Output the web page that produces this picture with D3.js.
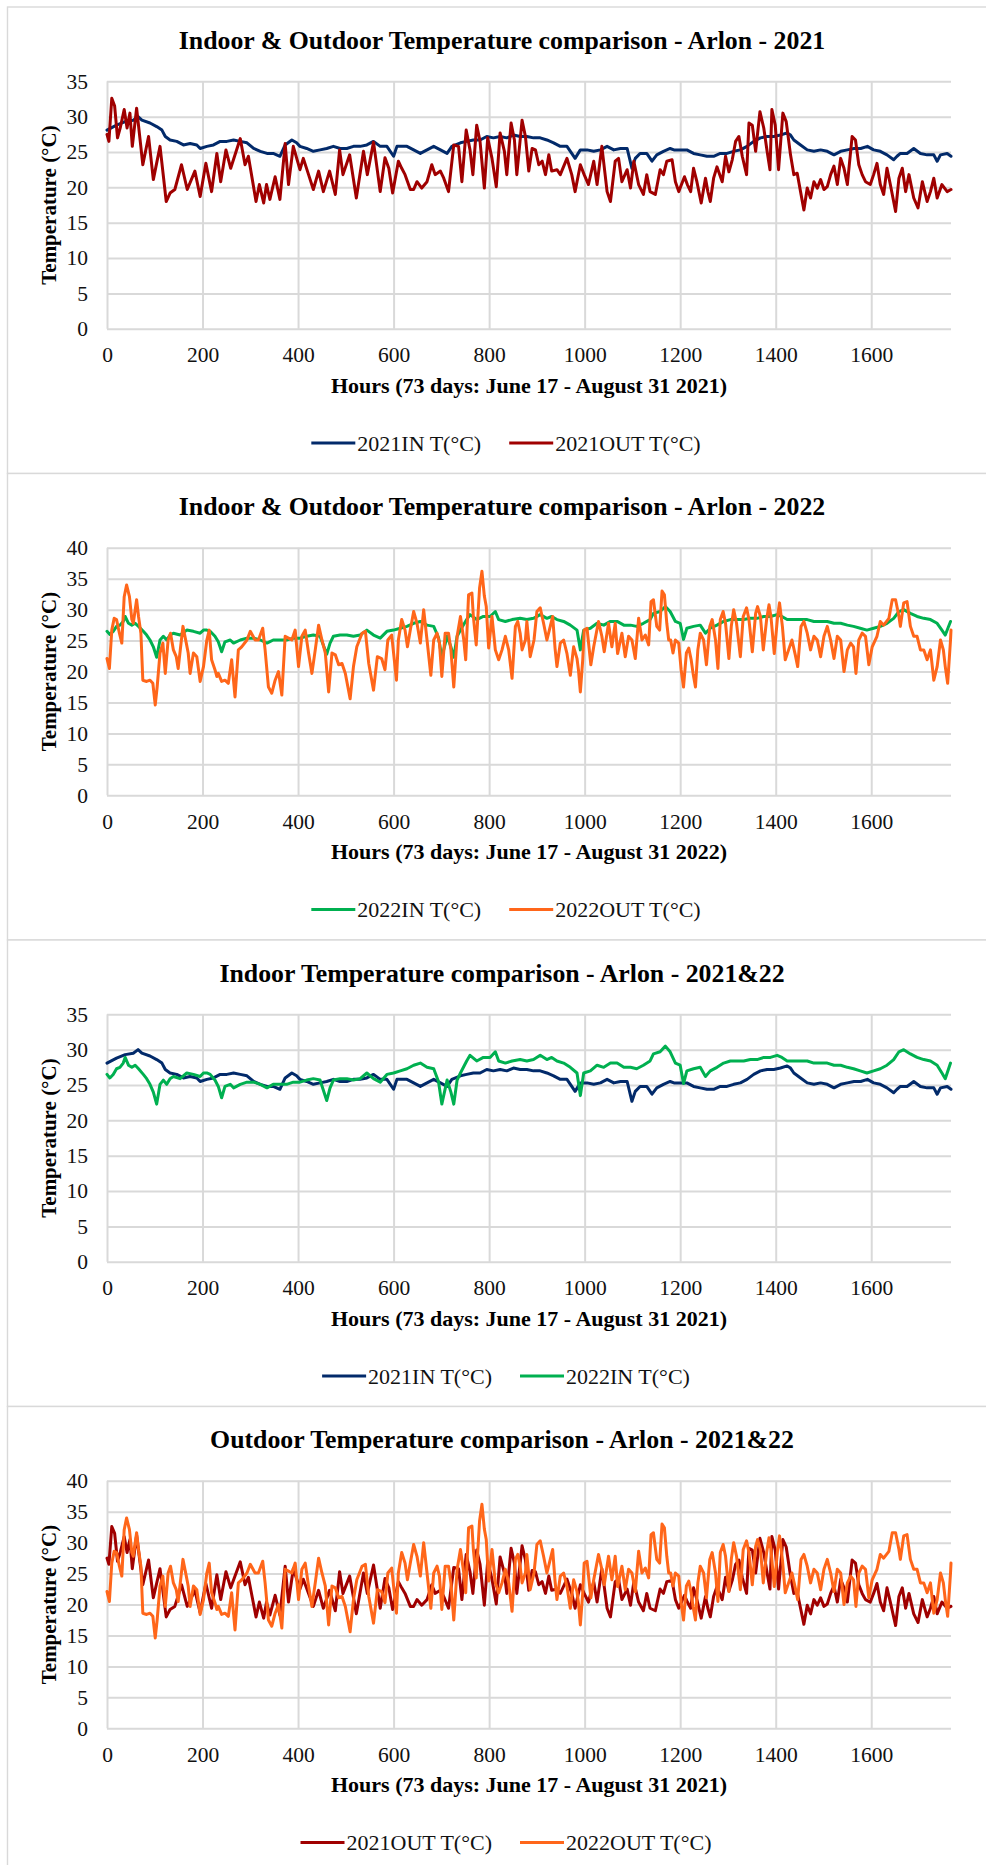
<!DOCTYPE html>
<html><head><meta charset="utf-8">
<script src="https://cdn.jsdelivr.net/npm/d3@7"></script>
<style>body{margin:0;background:#fff}svg{display:block}</style>
</head><body>
<svg id="c" width="986" height="1865"></svg>
<script>
// ---------- data (hour, °C) ----------
const in2021 = [[0,28.1],[20,28.8],[38,29.3],[55,29.5],[65,30.0],[73,29.5],[90,29.1],[104,28.6],[115,28.1],[122,27.2],[132,26.7],[146,26.5],[160,26.0],[174,26.2],[188,26.0],[195,25.5],[209,25.8],[223,26.0],[237,26.5],[251,26.5],[265,26.7],[279,26.5],[293,26.3],[307,25.5],[321,25.1],[335,24.8],[348,24.8],[362,24.4],[373,26.0],[387,26.7],[397,26.3],[404,25.8],[418,25.5],[432,25.1],[446,25.3],[460,25.5],[474,25.8],[488,25.5],[502,25.5],[516,25.8],[530,25.8],[544,26.0],[558,26.5],[572,25.8],[586,25.8],
[600,24.4],[607,25.8],[628,25.8],[642,25.3],[656,24.8],[670,25.3],[684,25.8],[698,25.3],[712,24.8],[722,25.8],[740,26.3],[753,26.5],[767,26.7],[781,26.7],[795,27.2],[809,27.0],[823,27.2],[837,27.0],[851,27.4],[865,27.2],[879,27.2],[893,27.0],[907,27.0],[921,26.7],[935,26.3],[949,25.8],[963,25.8],[973,24.8],[980,24.1],[991,25.3],[1005,25.3],[1019,25.1],[1033,25.3],[1047,25.8],[1061,25.3],[1075,25.5],[1089,25.5],[1099,22.7],[1106,24.1],[1116,24.8],[1130,24.8],[1141,23.7],[1151,24.6],[1165,25.1],[1179,25.5],
[1187,25.3],[1200,25.3],[1214,25.3],[1228,24.8],[1242,24.6],[1256,24.4],[1270,24.4],[1284,24.8],[1298,24.8],[1312,25.1],[1326,25.3],[1340,25.8],[1354,26.5],[1368,27.0],[1382,27.2],[1396,27.2],[1410,27.4],[1424,27.7],[1431,27.4],[1438,26.7],[1452,26.0],[1466,25.3],[1480,25.1],[1494,25.3],[1508,25.1],[1522,24.6],[1536,25.1],[1550,25.3],[1564,25.5],[1578,25.5],[1592,25.8],[1605,25.3],[1619,25.1],[1633,24.6],[1647,23.9],[1654,24.4],[1661,24.8],[1675,24.8],[1689,25.5],[1703,24.8],[1717,24.6],[1731,24.6],[1738,23.7],[1745,24.6],[1759,24.8],[1767,24.4]];

const out2021 = [[0,27.5],[4,26.5],[10,32.6],[16,31.5],[22,27.0],[28,28.5],[36,31.0],[42,28.4],[48,30.5],[53,25.8],[62,31.2],[75,23.2],[87,27.2],[97,21.1],[111,25.8],[124,18.0],[132,19.2],[142,19.7],[156,23.2],[168,19.7],[184,22.3],[195,18.7],[207,23.4],[219,19.4],[230,24.8],[238,20.8],[249,25.3],[259,22.7],[279,26.9],[289,23.2],[296,24.4],[312,18.0],[319,20.4],[328,17.8],[334,20.4],[341,18.3],[352,21.5],[362,18.3],[373,26.2],[380,20.4],[390,25.8],[404,22.5],[411,24.1],[422,21.8],[432,19.7],[443,22.3],[453,19.4],[466,22.3],[478,19.0],[487,25.3],[494,21.8],[508,24.6],[522,18.5],[537,25.1],[545,21.8],[558,26.4],[572,19.4],[582,24.2],[590,22.7],[598,19.2],
[610,23.7],[617,22.7],[624,21.8],[635,19.7],[642,19.7],[649,20.8],[659,19.9],[670,20.8],[680,23.2],[687,21.8],[698,22.3],[705,21.3],[715,19.4],[726,26.0],[736,25.8],[743,20.8],[752,28.1],[760,25.3],[766,21.8],[774,28.8],[781,26.5],[790,19.9],[797,27.0],[806,24.1],[815,20.1],[823,27.7],[832,25.1],[837,21.8],[846,29.1],[853,26.7],[858,21.8],[869,29.5],[876,27.2],[883,22.3],[890,25.5],[897,25.3],[904,23.2],[911,23.7],[918,21.8],[925,24.6],[931,22.3],[942,22.5],[949,21.8],[963,24.1],[973,21.8],[980,19.4],[991,23.2],[999,21.8],[1008,20.4],[1019,23.7],[1026,20.4],[1036,25.8],[1047,19.4],[1054,18.0],[1064,23.7],[1071,24.1],[1078,20.8],[1089,22.5],[1096,19.9],[1103,23.7],[1113,20.4],[1123,19.0],[1130,21.8],[1137,19.4],[1148,19.0],[1158,22.5],[1165,21.8],[1172,23.7],
[1183,23.9],[1190,20.8],[1197,19.4],[1209,21.5],[1215,20.4],[1222,19.4],[1228,22.7],[1235,20.8],[1244,17.8],[1253,21.3],[1258,19.4],[1263,18.0],[1270,21.3],[1277,22.9],[1288,20.8],[1295,24.4],[1302,22.2],[1309,23.9],[1316,26.5],[1323,27.2],[1330,24.4],[1339,21.8],[1344,29.1],[1351,28.8],[1358,25.1],[1367,30.7],[1375,28.4],[1382,25.1],[1388,22.5],[1392,31.0],[1399,28.8],[1406,22.5],[1415,30.5],[1422,29.3],[1431,24.6],[1438,21.8],[1445,22.0],[1452,19.4],[1459,16.8],[1466,19.9],[1473,18.5],[1480,20.8],[1487,19.9],[1494,21.1],[1501,19.7],[1508,20.1],[1515,21.8],[1522,23.0],[1529,20.4],[1536,24.1],[1543,22.7],[1550,20.4],[1560,27.2],[1567,26.7],[1574,23.2],[1581,21.8],[1588,20.8],[1598,20.4],[1605,21.8],[1612,23.4],[1619,20.4],[1626,19.0],[1633,22.7],[1640,20.4],[1651,16.6],[1658,21.3],[1665,22.7],[1672,19.4],[1679,21.8],[1689,18.5],[1698,17.1],[1707,20.8],[1717,18.0],[1724,19.4],[1731,21.3],[1738,18.5],[1748,20.4],[1759,19.4],[1767,19.7]];

const in2022 = [[0,26.5],[6,26.0],[13,26.5],[20,27.3],[27,27.5],[34,28.1],[38,28.9],[45,27.8],[52,27.5],[59,27.8],[66,27.3],[76,26.5],[83,25.9],[90,25.1],[97,24.0],[104,22.3],[111,25.1],[118,25.7],[125,25.1],[132,25.9],[139,26.2],[153,25.9],[167,26.7],[181,26.5],[195,26.2],[202,26.7],[209,26.7],[216,26.5],[226,25.7],[233,24.8],[240,23.2],[247,24.8],[258,25.1],[265,24.6],[279,25.1],[293,25.4],[307,25.4],[321,25.1],[335,24.6],[348,25.1],[362,25.1],[376,25.1],[390,25.4],[404,25.4],[418,25.7],[432,25.9],[446,25.7],[460,22.8],[467,24.6],[474,25.7],[488,25.9],[502,25.9],[516,25.7],[530,25.9],[544,26.7],[558,25.9],[572,25.4],[586,26.5],
[600,26.7],[614,27.0],[628,27.3],[642,27.8],[656,28.1],[670,27.5],[684,27.3],[694,25.5],[701,22.3],[712,25.7],[720,24.0],[726,22.3],[733,25.7],[740,26.7],[753,28.4],[760,29.2],[774,28.4],[788,28.9],[802,28.9],[813,29.7],[820,28.4],[834,28.1],[848,28.4],[865,28.6],[879,28.4],[893,28.6],[907,29.2],[921,28.6],[931,28.9],[942,28.4],[956,28.1],[970,27.5],[984,26.7],[991,23.5],[998,26.7],[1012,27.0],[1026,27.8],[1040,27.5],[1054,28.1],[1068,28.1],[1082,27.5],[1096,27.5],[1109,27.3],[1123,27.8],[1137,28.4],[1144,29.4],[1158,29.7],[1169,30.5],[1179,29.7],
[1190,28.1],[1200,27.8],[1207,25.2],[1214,27.0],[1228,27.3],[1242,27.5],[1253,26.2],[1263,27.0],[1277,27.5],[1291,28.1],[1305,28.4],[1319,28.4],[1333,28.4],[1347,28.6],[1361,28.6],[1375,28.9],[1389,28.9],[1403,29.2],[1413,28.9],[1424,28.4],[1438,28.4],[1452,28.4],[1466,28.4],[1480,28.1],[1494,28.1],[1508,28.1],[1522,27.8],[1536,27.8],[1550,27.5],[1563,27.3],[1577,27.0],[1591,26.7],[1605,27.0],[1619,27.3],[1633,27.8],[1647,28.6],[1658,29.7],[1668,30.0],[1682,29.4],[1696,28.9],[1710,28.6],[1724,28.4],[1738,27.8],[1748,26.7],[1755,25.9],[1766,28.1]];

const out2022 = [[0,22.1],[5,20.5],[10,26.7],[15,28.6],[20,28.4],[26,26.2],[31,24.6],[36,32.1],[41,34.0],[47,32.1],[52,28.4],[55,27.8],[62,31.6],[66,28.9],[71,26.2],[75,18.6],[83,18.4],[90,18.6],[96,18.1],[101,14.6],[105,17.5],[111,23.0],[117,24.6],[122,19.7],[128,25.1],[133,26.2],[139,23.5],[145,22.4],[149,20.5],[159,27.3],[166,24.6],[170,23.0],[174,19.7],[181,23.0],[188,22.4],[195,18.4],[202,20.8],[209,25.1],[214,26.7],[219,21.9],[226,20.3],[230,19.2],[233,19.7],[240,18.4],[247,18.6],[254,18.1],[261,21.9],[268,15.9],[275,23.5],[282,24.0],[293,25.1],[300,26.5],[310,25.1],[317,25.1],[326,27.0],[331,23.5],[338,17.5],[345,16.5],[352,18.6],[359,20.0],[366,16.2],[373,25.7],[380,25.4],[387,25.1],[394,26.7],[401,20.8],[408,25.7],[415,26.7],[422,23.0],[429,19.7],[436,23.5],[443,27.5],[450,25.1],[457,23.0],[464,16.7],[471,23.0],[478,22.7],[485,21.1],[492,21.3],[499,19.7],[509,15.6],[516,20.8],[523,24.0],[534,26.2],[541,26.5],[548,21.3],[558,17.0],[566,22.4],[575,22.1],[582,20.3],[588,25.1],
[596,25.9],[606,18.6],[610,25.1],[617,28.4],[624,26.7],[629,24.0],[635,26.7],[642,29.7],[649,27.8],[656,24.6],[663,30.0],[670,25.1],[678,19.4],[684,25.1],[691,26.2],[696,24.6],[701,19.2],[708,26.2],[715,26.2],[720,23.5],[726,17.5],[733,25.7],[740,28.9],[747,25.1],[751,21.9],[757,32.4],[764,32.7],[767,28.9],[773,24.3],[780,33.5],[785,36.2],[790,32.2],[794,30.5],[799,23.8],[806,28.9],[813,23.5],[820,21.9],[827,23.5],[834,25.7],[841,23.5],[848,18.9],[855,27.3],[860,28.1],[865,26.2],[869,23.5],[876,25.1],[879,28.1],[886,22.4],[894,25.1],[900,29.7],[907,30.3],[914,27.8],[921,25.1],[928,27.3],[933,28.9],[938,23.8],[942,20.8],[949,24.6],[956,25.1],[963,22.9],[970,19.4],[977,24.0],[984,22.1],[987,20.3],[991,16.7],[996,21.9],[999,26.7],[1005,27.0],[1013,21.1],[1019,24.0],[1029,28.1],[1036,25.7],[1041,23.2],[1050,27.8],[1057,24.0],[1064,27.8],[1069,22.9],[1078,26.2],[1085,22.4],[1092,25.7],[1099,25.1],[1106,22.1],[1113,28.6],[1120,25.1],[1127,25.9],[1134,24.3],[1139,31.3],[1144,31.6],[1151,27.3],[1157,26.7],[1162,33.0],[1167,32.4],[1172,27.8],[1176,25.1],
[1180,25.1],[1185,23.0],[1190,25.1],[1197,24.6],[1202,20.3],[1207,17.5],[1213,23.0],[1218,23.8],[1223,21.9],[1227,19.7],[1232,17.5],[1237,23.5],[1242,26.2],[1249,25.1],[1255,21.1],[1262,27.3],[1267,28.4],[1274,25.1],[1279,20.5],[1284,28.4],[1290,29.7],[1295,27.8],[1302,22.1],[1307,27.3],[1312,30.0],[1318,27.8],[1326,22.4],[1332,28.9],[1339,30.3],[1344,28.4],[1351,23.2],[1358,29.4],[1362,30.5],[1368,28.9],[1374,23.5],[1381,28.4],[1386,30.8],[1390,28.9],[1397,22.9],[1404,28.9],[1408,31.1],[1414,27.3],[1420,21.9],[1427,23.5],[1434,25.1],[1441,22.7],[1446,20.8],[1453,27.3],[1459,28.1],[1466,26.2],[1473,23.5],[1480,25.7],[1487,25.1],[1494,22.4],[1501,25.7],[1508,27.3],[1515,25.1],[1522,22.1],[1529,25.7],[1536,25.1],[1543,20.0],[1550,23.5],[1557,24.6],[1563,24.0],[1568,19.7],[1574,25.1],[1581,26.2],[1588,25.7],[1595,21.1],[1602,24.0],[1612,25.7],[1619,28.1],[1626,27.5],[1637,28.6],[1644,31.6],[1651,31.6],[1658,28.9],[1661,27.3],[1668,31.1],[1675,31.3],[1682,27.3],[1689,25.7],[1696,25.7],[1703,23.5],[1710,23.5],[1717,21.9],[1724,23.5],[1731,18.6],[1738,20.8],[1745,25.1],[1751,23.5],[1755,20.8],[1760,18.1],[1766,25.1],[1767,26.7]];

const xTickValues = [0,200,400,600,800,1000,1200,1400,1600];
const hourMax = 1767;
const titles = [
  "Indoor & Outdoor Temperature comparison - Arlon - 2021",
  "Indoor & Outdoor Temperature comparison - Arlon - 2022",
  "Indoor Temperature comparison - Arlon - 2021&22",
  "Outdoor Temperature comparison - Arlon - 2021&22"
];
const xTitles = [
  "Hours (73 days: June 17 - August 31 2021)",
  "Hours (73 days: June 17 - August 31 2022)",
  "Hours (73 days: June 17 - August 31 2021)",
  "Hours (73 days: June 17 - August 31 2021)"
];
const yMaxes = [35, 40, 35, 40];
const seriesNames = [["2021IN T(°C)","2021OUT T(°C)"],["2022IN T(°C)","2022OUT T(°C)"],["2021IN T(°C)","2022IN T(°C)"],["2021OUT T(°C)","2022OUT T(°C)"]];

// ---------- styles ----------
const NAVY = "#022a6a", DRED = "#a00000", GREEN = "#00b050", ORANGE = "#ff661a";
const seriesData = [[in2021,out2021],[in2022,out2022],[in2021,in2022],[out2021,out2022]];
const seriesColors = [[NAVY,DRED],[GREEN,ORANGE],[NAVY,GREEN],[DRED,ORANGE]];
const FONT = "'Liberation Serif','Times New Roman',serif";
const GRID = "#d9d9d9";

const svg = d3.select("#c");
const PH = 466.5, LEFT = 107, RIGHT = 951;

for (let i = 0; i < 4; i++) {
  const top = 7 + i * PH;
  const g = svg.append("g");
  g.append("rect").attr("x", 7.5).attr("y", top).attr("width", 990).attr("height", PH)
    .attr("fill", "#fff").attr("stroke", GRID).attr("stroke-width", 1.4);

  const pTop = top + 74.3, pBot = top + 321.8;
  const x = d3.scaleLinear().domain([0, hourMax]).range([LEFT, RIGHT]);
  const y = d3.scaleLinear().domain([0, yMaxes[i]]).range([pBot, pTop]);
  const yTicks = d3.range(0, yMaxes[i] + 1, 5);

  // gridlines
  g.append("g").attr("transform", `translate(0,${pBot})`)
    .call(d3.axisBottom(x).tickValues(xTickValues).tickSize(-(pBot - pTop)).tickFormat(""))
    .call(s => s.select(".domain").remove())
    .call(s => s.selectAll("line").attr("stroke", GRID).attr("stroke-width", 2));
  g.append("g").attr("transform", `translate(${LEFT},0)`)
    .call(d3.axisLeft(y).tickValues(yTicks).tickSize(-(RIGHT - LEFT)).tickFormat(""))
    .call(s => s.select(".domain").remove())
    .call(s => s.selectAll("line").attr("stroke", GRID).attr("stroke-width", 2));

  // tick labels
  g.append("g").attr("transform", `translate(${LEFT},0)`)
    .call(d3.axisLeft(y).tickValues(yTicks).tickSize(0).tickPadding(19).tickFormat(d3.format("d")))
    .call(s => s.select(".domain").remove())
    .call(s => s.selectAll("text").attr("font-family", FONT).attr("font-size", 21.5).attr("fill", "#111"));
  g.append("g").attr("transform", `translate(0,${pBot})`)
    .call(d3.axisBottom(x).tickValues(xTickValues).tickSize(0).tickPadding(18).tickFormat(d3.format("d")))
    .call(s => s.select(".domain").remove())
    .call(s => s.selectAll("text").attr("font-family", FONT).attr("font-size", 21.5).attr("fill", "#111"));

  // lines
  const line = d3.line().x(d => x(d[0])).y(d => y(d[1])).curve(d3.curveLinear);
  seriesData[i].forEach((data, k) => {
    g.append("path").datum(data).attr("d", line).attr("fill", "none")
      .attr("stroke", seriesColors[i][k]).attr("stroke-width", 3)
      .attr("stroke-linejoin", "round").attr("stroke-linecap", "round");
  });

  // titles
  g.append("text").attr("x", 502).attr("y", top + 33).attr("text-anchor", "middle")
    .attr("dominant-baseline", "central").attr("font-family", FONT).attr("font-weight", "bold")
    .attr("font-size", 25.8).attr("fill", "#000").text(titles[i]);
  g.append("text").attr("x", (LEFT + RIGHT) / 2).attr("y", top + 378).attr("text-anchor", "middle")
    .attr("dominant-baseline", "central").attr("font-family", FONT).attr("font-weight", "bold")
    .attr("font-size", 22).attr("fill", "#000").text(xTitles[i]);
  g.append("text").attr("transform", `translate(49,${(pTop + pBot) / 2}) rotate(-90)`)
    .attr("text-anchor", "middle").attr("dominant-baseline", "central").attr("font-family", FONT)
    .attr("font-weight", "bold").attr("font-size", 21).attr("fill", "#000").text("Temperature (°C)");

  // legend
  const lg = g.append("g");
  const ly = top + 436;
  let cx = 0;
  seriesNames[i].forEach((name, k) => {
    const it = lg.append("g").attr("transform", `translate(${cx},0)`);
    it.append("line").attr("x1", 0).attr("x2", 44).attr("y1", ly).attr("y2", ly)
      .attr("stroke", seriesColors[i][k]).attr("stroke-width", 3);
    const t = it.append("text").attr("x", 46).attr("y", ly).attr("dominant-baseline", "central")
      .attr("font-family", FONT).attr("font-size", 22).attr("fill", "#111").text(name);
    const w = 46 + t.node().getComputedTextLength();
    cx += w + 28;
  });
  const total = cx - 28;
  lg.attr("transform", `translate(${506 - total / 2},0)`);
}
</script>
</body></html>
